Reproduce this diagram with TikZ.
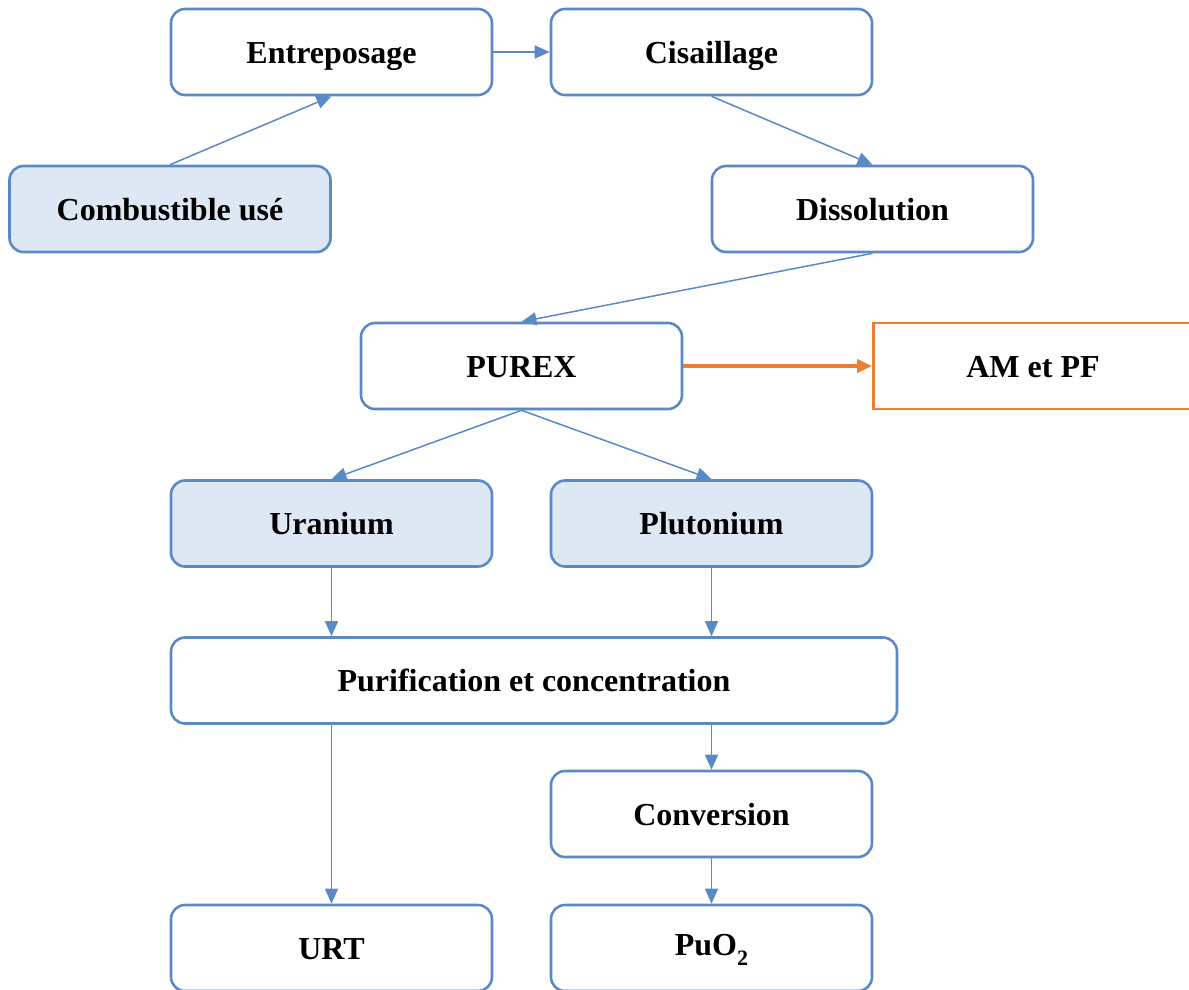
\documentclass[tikz,border=0pt]{standalone}
\usepackage{fontspec}
\setmainfont{Liberation Serif}
\usetikzlibrary{arrows.meta}
\definecolor{bblue}{HTML}{5A8AC6}
\definecolor{bfill}{HTML}{DEE8F5}
\definecolor{borange}{HTML}{ED7D31}
\begin{document}
\begin{tikzpicture}[x=1pt,y=-1pt,
  lbl/.style={font=\fontsize{32}{36}\selectfont\bfseries,text height=25pt,text depth=2.4pt},
  stepbox/.style={lbl,draw=bblue,line width=2.6pt,rounded corners=14pt,fill=white,
    minimum width=321pt,minimum height=86pt,inner sep=0pt},
  filledbox/.style={stepbox,fill=bfill},
  conn/.style={draw=bblue,line width=1.5pt,-{Triangle[length=15pt,width=13pt]}},
  oconn/.style={draw=borange,line width=4pt,-{Triangle[length=15pt,width=13pt]}}]
\useasboundingbox (0,0) rectangle (1189,989);
\begin{scope}
\clip (0,0) rectangle (1189,989);
\node[stepbox] (ent) at (331.5,52) {Entreposage};
\node[stepbox] (cis) at (711.5,52) {Cisaillage};
\node[filledbox] (comb) at (170,209) {Combustible usé};
\node[stepbox] (dis) at (872.5,209) {Dissolution};
\node[stepbox] (pur) at (521.5,366) {PUREX};
\node[draw=borange,line width=2.6pt,minimum width=330pt,minimum height=86pt,inner sep=0pt,
  anchor=west] (ampf) at (872,366) {};
\node[lbl] (ampft) at (1033,366) {AM et PF};
\node[filledbox] (ura) at (331.5,523.5) {Uranium};
\node[filledbox] (plu) at (711.5,523.5) {Plutonium};
\node[stepbox,minimum width=726pt] (purif) at (534,680.5) {Purification et concentration};
\node[stepbox] (conv) at (711.5,814) {Conversion};
\node[stepbox] (urt) at (331.5,948) {URT};
\node[stepbox,text height=28pt,text depth=12.6pt] (puo) at (711.5,948) {PuO\raisebox{-10pt}{\fontsize{22}{24}\selectfont 2}};
\end{scope}
\draw[conn] (ent.east) -- (cis.west);
\draw[conn] (comb.north) -- (ent.south);
\draw[conn] (cis.south) -- (dis.north);
\draw[conn] (dis.south) -- (pur.north);
\draw[oconn] (pur.east) -- (ampf.west);
\draw[conn] (pur.south) -- (ura.north);
\draw[conn] (pur.south) -- (plu.north);
\draw[conn] (ura.south) -- (ura.south |- purif.north);
\draw[conn] (plu.south) -- (plu.south |- purif.north);
\draw[conn] (urt.north |- purif.south) -- (urt.north);
\draw[conn] (conv.north |- purif.south) -- (conv.north);
\draw[conn] (conv.south) -- (puo.north);
\end{tikzpicture}
\end{document}
